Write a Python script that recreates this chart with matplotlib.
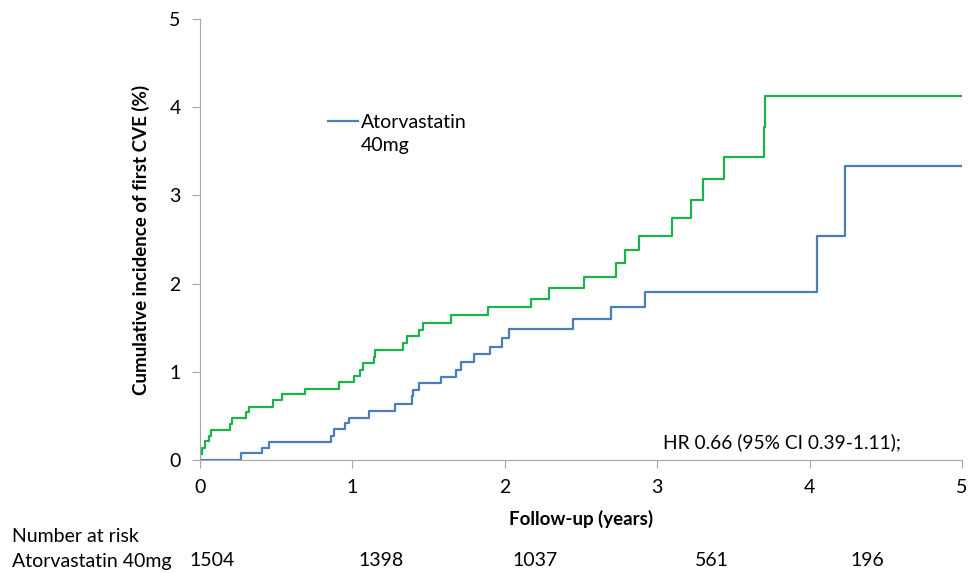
import matplotlib
matplotlib.use('Agg')
import matplotlib.pyplot as plt
import matplotlib.transforms as mtransforms

plt.rcParams['font.family'] = ['Lato', 'DejaVu Sans']

# cumulative incidence (%) step curves, time in years
green_t = [0, 0.00, 0.01, 0.03, 0.06, 0.07, 0.20, 0.21, 0.30, 0.32, 0.48, 0.54, 0.69,
           0.91, 1.01, 1.05, 1.07, 1.14, 1.15, 1.33, 1.36, 1.44, 1.46, 1.65, 1.89,
           2.17, 2.29, 2.52, 2.73, 2.79, 2.88, 3.10, 3.22, 3.30, 3.44, 3.70, 3.71, 5.0]
green_y = [0, 0.07, 0.14, 0.21, 0.27, 0.34, 0.41, 0.48, 0.54, 0.60, 0.68, 0.75, 0.81,
           0.88, 0.95, 1.02, 1.10, 1.17, 1.25, 1.33, 1.41, 1.47, 1.55, 1.64, 1.73,
           1.83, 1.95, 2.08, 2.23, 2.38, 2.54, 2.74, 2.95, 3.19, 3.43, 3.77, 4.13, 4.13]

blue_t = [0, 0.27, 0.41, 0.45, 0.86, 0.88, 0.95, 0.98, 1.11, 1.28, 1.39, 1.40, 1.44,
          1.58, 1.68, 1.71, 1.80, 1.90, 1.98, 2.03, 2.45, 2.70, 2.92, 4.05, 4.23, 5.0]
blue_y = [0, 0.08, 0.14, 0.20, 0.27, 0.35, 0.42, 0.48, 0.56, 0.63, 0.72, 0.79, 0.87,
          0.94, 1.02, 1.11, 1.20, 1.28, 1.38, 1.48, 1.60, 1.74, 1.90, 2.54, 3.33, 3.33]

risk_label = 'Atorvastatin 40mg'
risk_n = ['1504', '1398', '1037', '561', '196']
risk_x = [0.08, 1.19, 2.20, 3.36, 4.38]  # where the numbers sit under the axis

green_c = '#1db04c'
blue_c = '#4a7ebb'
axis_c = '#a6a6a6'

fig = plt.figure(figsize=(9.69, 5.73), dpi=100)
ax = fig.add_axes([200/969, 1-460/573, 762/969, 441/573])

ax.step(green_t, green_y, where='post', color=green_c, lw=1.6)
ax.step(blue_t, blue_y, where='post', color=blue_c, lw=1.6, label='Atorvastatin')

ax.set_xlim(0, 5)
ax.set_ylim(0, 5)
ax.set_xticks(range(6))
ax.set_yticks(range(6))
for s in ['top', 'right']:
    ax.spines[s].set_visible(False)
for s in ['left', 'bottom']:
    ax.spines[s].set_color(axis_c)
ax.tick_params(direction='out', color=axis_c, length=6, labelsize=14, pad=8)
ax.set_xlabel('Follow-up (years)', fontsize=13.5, fontweight='bold', labelpad=10)
ax.set_ylabel('Cumulative incidence of first CVE (%)', fontsize=13.5, fontweight='bold', labelpad=14)

leg = ax.legend(loc='center left', bbox_to_anchor=(128/762, (460-122)/441), frameon=False,
                fontsize=14, handlelength=1.55, handletextpad=0.12,
                borderpad=0, borderaxespad=0)
ax.text(161/762, (460-145)/441, '40mg', transform=ax.transAxes, fontsize=14, va='center')

ax.text(463/762, (460-442)/441, 'HR 0.66 (95% CI 0.39-1.11);',
        transform=ax.transAxes, fontsize=13.8, va='center', ha='left')

fig.text(12/969, 1-537/573, 'Number at risk', fontsize=14, va='center')
fig.text(12/969, 1-561/573, risk_label, fontsize=14, va='center')
trans = mtransforms.blended_transform_factory(ax.transData, fig.transFigure)
for x, n in zip(risk_x, risk_n):
    ax.text(x, 1-561/573, n, transform=trans, fontsize=14, ha='center', va='center')

fig.savefig('out.png', dpi=100)
